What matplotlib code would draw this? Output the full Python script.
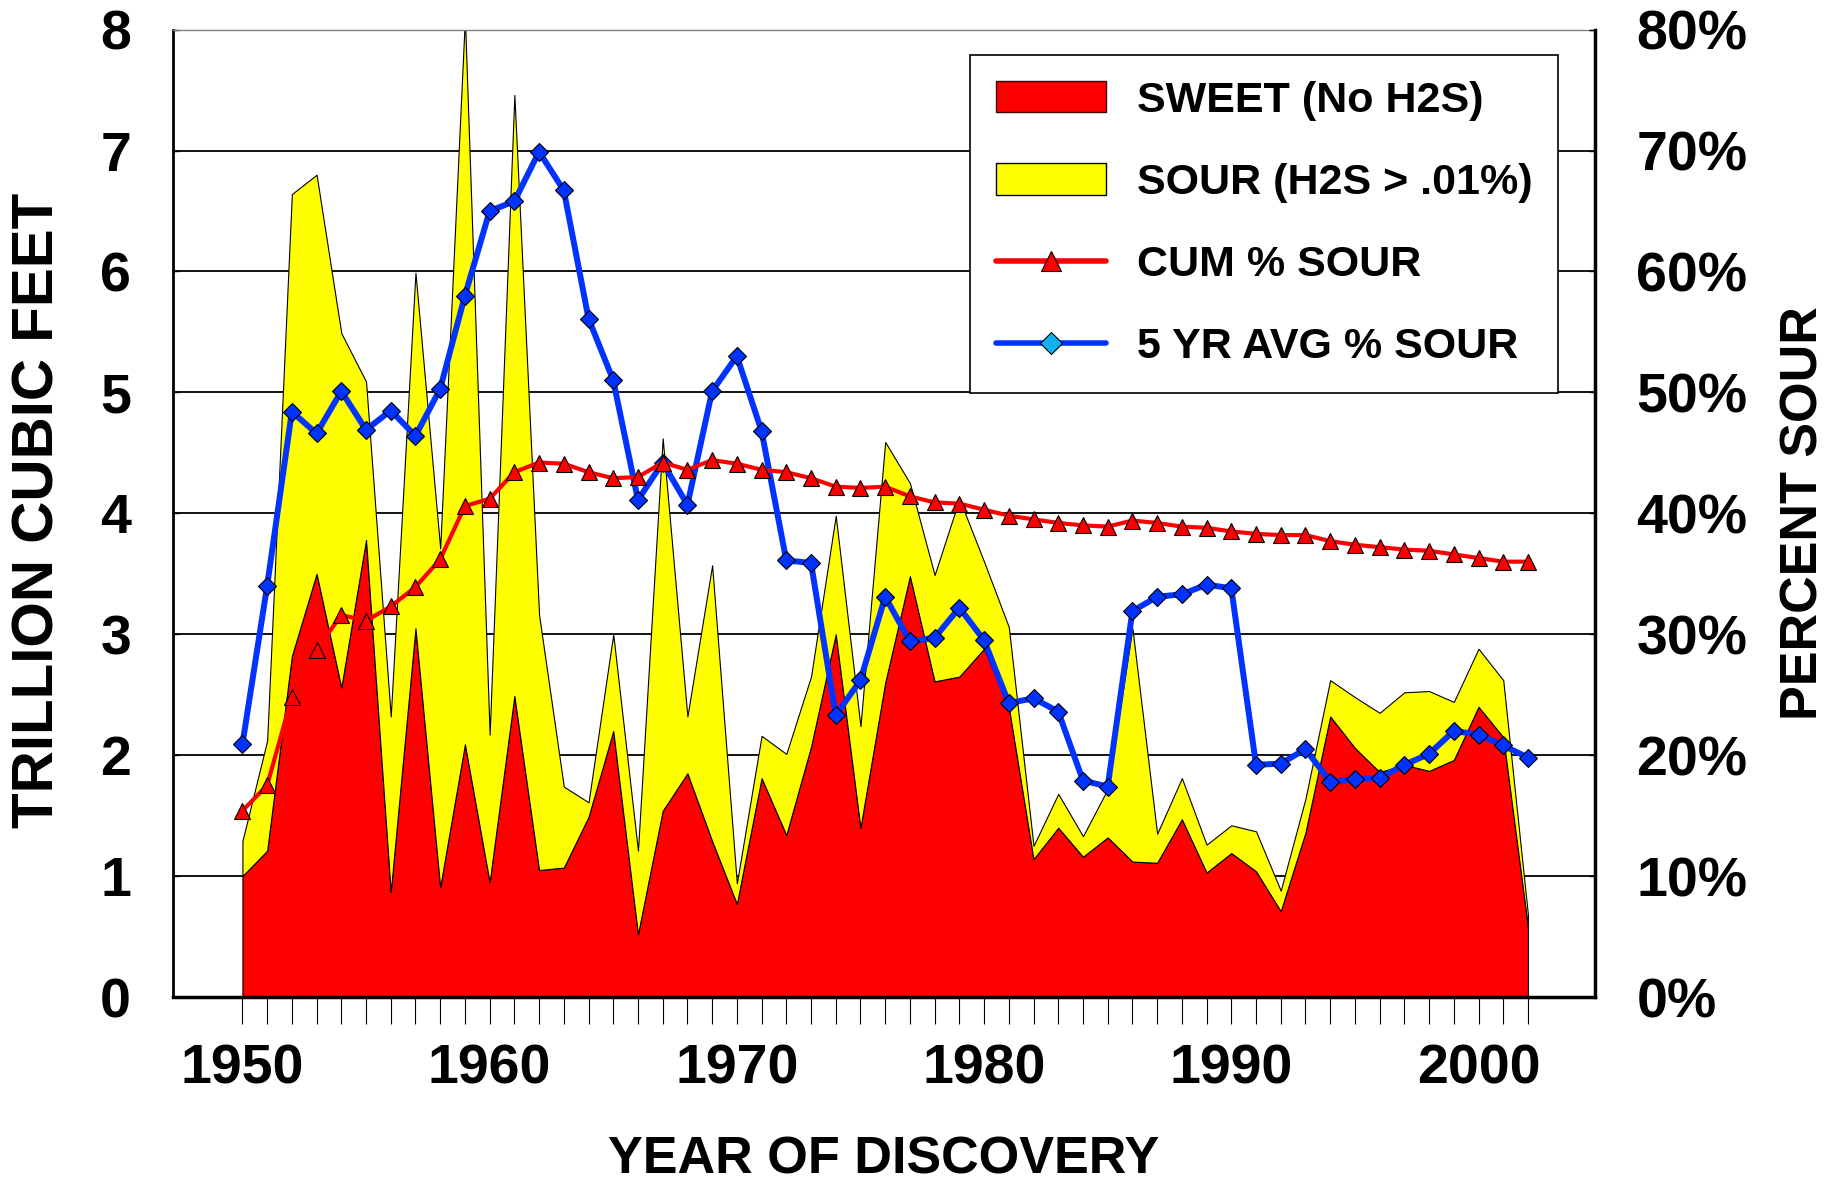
import matplotlib
matplotlib.use("Agg")
import matplotlib.pyplot as plt
from matplotlib.patches import Patch
from matplotlib.lines import Line2D

plt.rcParams['font.family'] = ['Liberation Sans', 'DejaVu Sans']
plt.rcParams['font.weight'] = 'bold'

# ---------------- data ----------------
years = list(range(1950, 2003))
sweet = [1.00, 1.21, 2.82, 3.50, 2.56, 3.78, 0.87, 3.05, 0.91, 2.09,
         0.95, 2.49, 1.05, 1.07, 1.49, 2.20, 0.52, 1.54, 1.85, 1.29,
         0.77, 1.81, 1.34, 2.07, 3.00, 1.40, 2.60, 3.48, 2.61, 2.65,
         2.88, 2.40, 1.14, 1.40, 1.16, 1.32, 1.12, 1.11, 1.47, 1.03,
         1.19, 1.04, 0.71, 1.36, 2.32, 2.06, 1.86, 1.92, 1.87, 1.96,
         2.40, 2.15, 0.58]
sour = [0.29, 0.91, 3.82, 3.30, 2.93, 1.31, 1.45, 2.94, 2.80, 6.01,
        1.22, 4.97, 2.11, 0.67, 0.12, 0.80, 0.69, 3.08, 0.47, 2.28,
        0.17, 0.35, 0.67, 0.58, 0.98, 0.84, 1.99, 0.77, 0.88, 1.47,
        0.72, 0.66, 0.11, 0.28, 0.17, 0.40, 1.93, 0.24, 0.34, 0.23,
        0.23, 0.33, 0.17, 0.28, 0.30, 0.42, 0.49, 0.60, 0.66, 0.48,
        0.48, 0.47, 0.10]
cum_pct = [15.4, 17.5, 24.8, 28.7, 31.6, 31.1, 32.3, 33.9, 36.2, 40.6,
           41.2, 43.4, 44.2, 44.1, 43.4, 42.9, 43.0, 44.2, 43.6, 44.4,
           44.1, 43.6, 43.4, 42.9, 42.2, 42.1, 42.2, 41.4, 40.9, 40.8,
           40.3, 39.8, 39.5, 39.2, 39.0, 38.9, 39.4, 39.2, 38.9, 38.8,
           38.5, 38.3, 38.2, 38.2, 37.7, 37.4, 37.2, 37.0, 36.9, 36.6,
           36.3, 36.0, 36.0]
avg5_pct = [20.9, 34.0, 48.4, 46.6, 50.1, 46.9, 48.5, 46.4, 50.3, 58.0,
            65.0, 65.8, 69.9, 66.7, 56.1, 51.0, 41.1, 44.2, 40.7, 50.1,
            53.0, 46.8, 36.1, 35.9, 23.3, 26.2, 33.1, 29.4, 29.7, 32.2,
            29.5, 24.3, 24.7, 23.6, 17.9, 17.4, 31.9, 33.1, 33.3, 34.1,
            33.8, 19.2, 19.3, 20.5, 17.8, 18.0, 18.1, 19.2, 20.1, 22.0,
            21.7, 20.8, 19.8]
left_ticks = list(range(0, 9))
right_ticks = list(range(0, 81, 10))
decade_labels = [1950, 1960, 1970, 1980, 1990, 2000]
legend_labels = ['SWEET (No H2S)', 'SOUR (H2S > .01%)', 'CUM % SOUR', '5 YR AVG % SOUR']

RED = '#FF0000'
YEL = '#FFFF00'
BLUE = '#0033FF'

W, H = 1842, 1183
fig = plt.figure(figsize=(W / 100, H / 100), dpi=100)
L, R, T, B = 172.7, 1594.7, 29.6, 997.0
ax = fig.add_axes([L / W, 1 - B / H, (R - L) / W, (B - T) / H])

ax.stackplot(years, sweet, sour, colors=[RED, YEL], edgecolor='black', linewidth=0.8)
ax.set_xlim(1947.18, 2004.7)
ax.set_ylim(0, 8)
ax.set_axisbelow(True)
ax.yaxis.grid(True, color='black', linewidth=1.3)
ax.set_yticks(left_ticks)
ax.set_yticklabels([str(v) for v in left_ticks], fontsize=40, fontweight='bold')
ax.set_xticks(years)
ax.set_xticklabels([str(y) if y in decade_labels else '' for y in years], fontsize=40, fontweight='bold')
ax.tick_params(axis='x', direction='out', length=19.5, width=0.8, pad=14)
ax.tick_params(axis='y', direction='in', length=4, width=1, pad=30)

for s in ['left', 'bottom']:
    ax.spines[s].set_color('black')
ax.spines['left'].set_linewidth(2)
ax.spines['bottom'].set_linewidth(2.5)
ax.spines['top'].set_linewidth(1)
ax.spines['top'].set_color('#808080')
ax.spines['right'].set_visible(False)

ax2 = ax.twinx()
ax2.set_ylim(0, 80)
ax2.set_yticks(right_ticks)
ax2.set_yticklabels([f'{v}%' for v in right_ticks], fontsize=40, fontweight='bold')
ax2.tick_params(axis='y', direction='in', length=4, width=1, pad=30)
for s in ['left', 'top', 'bottom']:
    ax2.spines[s].set_visible(False)
ax2.spines['right'].set_linewidth(2.5)
ax2.spines['right'].set_color('black')

ax2.plot(years, avg5_pct, color=BLUE, lw=4.3, marker='D', ms=9,
         mfc=BLUE, mec='black', mew=0.8, zorder=3)
ax2.plot(years, cum_pct, color=RED, lw=3, marker='^', ms=11,
         mfc=RED, mec='black', mew=0.8, zorder=4)

handles = [
    Patch(facecolor=RED, edgecolor='#400000', linewidth=1),
    Patch(facecolor=YEL, edgecolor='black', linewidth=1),
    Line2D([], [], color=RED, lw=4, marker='^', ms=14, mfc=RED, mec='black', mew=0.8,
           solid_capstyle='round'),
    Line2D([], [], color=BLUE, lw=4, marker='D', ms=11, mfc='#12B0F0', mec='black', mew=0.8,
           solid_capstyle='round'),
]
leg = fig.legend(handles, legend_labels, loc='upper left',
                 bbox_to_anchor=(970 / W, 1 - 55 / H), bbox_transform=fig.transFigure,
                 frameon=True, fancybox=False, edgecolor='black', framealpha=1,
                 prop={'family': 'Liberation Sans', 'weight': 'bold', 'size': 31},
                 handlelength=2.55, handleheight=0.74, handletextpad=0.72,
                 borderpad=0.6, labelspacing=0.98, borderaxespad=0)
leg.get_frame().set_linewidth(1.2)

fig.text(39 / W, 1 - 510 / H, 'TRILLION CUBIC FEET', rotation=90, ha='center', va='center',
         fontsize=42, fontweight='bold')
fig.text(1804 / W, 1 - 513.5 / H, 'PERCENT SOUR', rotation=90, ha='center', va='center',
         fontsize=37.5, fontweight='bold')
fig.text(883.7 / W, 1 - 1173 / H, 'YEAR OF DISCOVERY', ha='center', va='baseline',
         fontsize=37.5, fontweight='bold')

fig.savefig('out.png', dpi=100)
